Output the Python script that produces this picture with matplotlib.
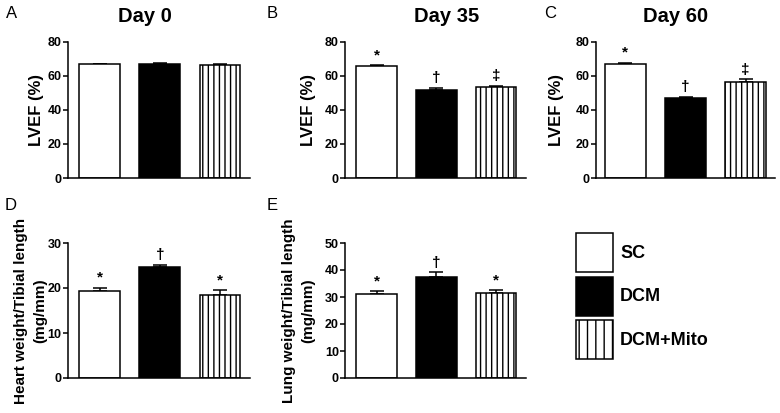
import matplotlib
matplotlib.use("Agg")
import matplotlib.pyplot as plt
from matplotlib.patches import Patch

plt.rcParams['font.family'] = ['Liberation Sans', 'DejaVu Sans']
plt.rcParams['hatch.linewidth'] = 1.0

# --- data ---
groups = ["SC", "DCM", "DCM+Mito"]
lvef_d0 = [66.8, 67.2, 66.3]
lvef_d0_err = [0.5, 0.5, 0.5]
lvef_d35 = [66.1, 51.8, 53.7]
lvef_d35_err = [0.5, 1.1, 0.5]
lvef_d60 = [66.9, 47.2, 56.6]
lvef_d60_err = [1.0, 0.7, 1.4]
heart_tl = [19.4, 24.6, 18.5]
heart_tl_err = [0.7, 0.6, 1.1]
lung_tl = [31.0, 37.5, 31.4]
lung_tl_err = [1.1, 1.6, 1.1]

marks_d0 = ["", "", ""]
marks_sig = ["*", "\u2020", "\u2021"]
marks_hw = ["*", "\u2020", "*"]

W, H = 780, 413
fig = plt.figure(figsize=(7.8, 4.13), dpi=100)

faces = ["white", "black", "white"]
hatches = ["", "", "|||"]


def box(l, r, t, b):
    # pixel box -> figure fraction
    return [l / W, 1 - b / H, (r - l) / W, (b - t) / H]


def panel(rect, vals, errs, marks, ymax, ystep, ylabel, xlim, labx, lsize=12):
    ax = fig.add_axes(rect)
    x = range(len(vals))
    ax.bar(x, vals, width=0.68, color=faces, edgecolor="black",
           linewidth=1.1, hatch=hatches, zorder=2)
    ax.errorbar(x, vals, yerr=[[0] * len(errs), errs], fmt="none",
                ecolor="black", elinewidth=1.1, capsize=5, capthick=1.1,
                zorder=1)
    for i, (v, e, m) in enumerate(zip(vals, errs, marks)):
        if m:
            ax.annotate(m, (i, v + e), xytext=(0, 2), textcoords="offset points",
                        ha="center", va="bottom", fontsize=11, fontweight="bold")
    ax.set_xlim(*xlim)
    ax.set_ylim(0, ymax)
    ax.set_yticks(range(0, ymax + 1, ystep))
    ax.set_xticks([])
    for s in ["top", "right"]:
        ax.spines[s].set_visible(False)
    for s in ["left", "bottom"]:
        ax.spines[s].set_linewidth(1.1)
    ax.tick_params(axis="y", length=3.5, width=1.1, labelsize=9, pad=1)
    for lab in ax.get_yticklabels():
        lab.set_fontweight("bold")
    ax.set_ylabel(ylabel, fontsize=lsize, fontweight="bold", linespacing=1.5)
    ax.yaxis.set_label_coords(labx, 0.5)
    return ax


xl = (-0.53, 2.5)
axA = panel(box(68, 250, 42, 178), lvef_d0, lvef_d0_err, marks_d0, 80, 20,
            "LVEF (%)", xl, -0.132)
axB = panel(box(345, 526, 42, 178), lvef_d35, lvef_d35_err, marks_sig, 80, 20,
            "LVEF (%)", xl, -0.160)
axC = panel(box(596, 775, 42, 178), lvef_d60, lvef_d60_err, marks_sig, 80, 20,
            "LVEF (%)", (-0.49, 2.49), -0.179)
axD = panel(box(68, 250, 243, 378), heart_tl, heart_tl_err, marks_hw, 30, 10,
            "Heart weight/Tibial length\n(mg/mm)", xl, -0.115, 11)
axE = panel(box(345, 526, 243, 378), lung_tl, lung_tl_err, marks_hw, 50, 10,
            "Lung weight/Tibial length\n(mg/mm)", xl, -0.165, 11)

# titles
for xc, yc, t in [(145, 16, "Day 0"), (447, 17, "Day 35"), (676, 16, "Day 60")]:
    fig.text(xc / W, 1 - yc / H, t, ha="center", va="center",
             fontsize=14.5, fontweight="bold")

# panel letters
for xp, yp, t in [(6, 13, "A"), (267, 13, "B"), (544, 13, "C"), (5, 206, "D"), (267, 206, "E")]:
    fig.text(xp / W, 1 - yp / H, t, ha="left", va="center", fontsize=12)

# legend
handles = [Patch(facecolor="white", edgecolor="black", linewidth=1.1),
           Patch(facecolor="black", edgecolor="black", linewidth=1.1),
           Patch(facecolor="white", edgecolor="black", linewidth=1.1, hatch="||")]
fig.legend(handles, groups, loc="upper left", bbox_to_anchor=(576 / W, 1 - 233 / H),
           frameon=False, borderpad=0, borderaxespad=0, handlelength=2.05,
           handleheight=2.95, handletextpad=0.4, labelspacing=0.25,
           prop={"size": 13, "weight": "bold"})

fig.savefig("out.png", dpi=100)
